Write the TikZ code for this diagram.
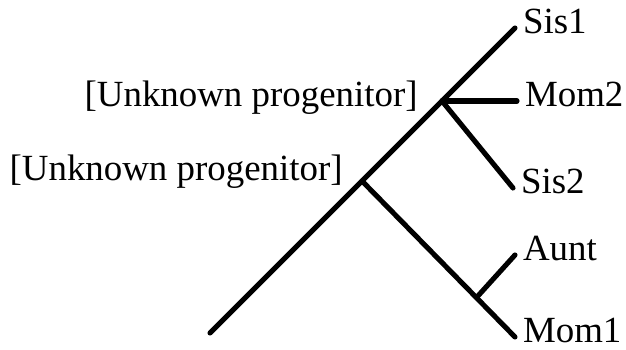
\documentclass[tikz,border=0pt]{standalone}
\usepackage{fontspec}
\setmainfont{Liberation Serif}
\usetikzlibrary{positioning}

\tikzset{
  branch/.style={line width=2.9pt, line cap=round},
  leaf/.style={anchor=west, inner xsep=0.16cm, inner ysep=0pt, outer sep=0pt,
    text height=0.8em, text depth=0.13em, font=\fontsize{21}{25}\selectfont},
  ancestor/.style={inner sep=0pt, font=\fontsize{21}{25}\selectfont}
}

\begin{document}
\begin{tikzpicture}[x=0.02cm, y=-0.02cm]
      \useasboundingbox (0,0) rectangle (626,350);

      \coordinate (root) at (210,333);
      \coordinate (anc1) at (362,181);
      \coordinate (anc2) at (442,101);
      \coordinate (anc3) at (477,297);

      \node[leaf] (sis1) at (515,28) {Sis1};
      \node[leaf] (mom2) at (517,101) {Mom2};
      \node[leaf] (sis2) at (513,188) {Sis2};
      \node[leaf] (aunt) at (515,255) {Aunt};
      \node[leaf] (mom1) at (515,337) {Mom1};

      \node[ancestor, left=0.48cm of anc2, yshift=0.06cm] (lbl2) {[Unknown progenitor]};
      \node[ancestor, left=0.38cm of anc1, yshift=0.18cm] (lbl1) {[Unknown progenitor]};

      \draw[branch] (root) -- (sis1.west);
      \draw[branch] (anc2) -- (mom2.west);
      \draw[branch] (anc2) -- (sis2.west);
      \draw[branch] (anc1) -- (mom1.west);
      \draw[branch] (anc3) -- (aunt.west);
    \end{tikzpicture}
\end{document}
